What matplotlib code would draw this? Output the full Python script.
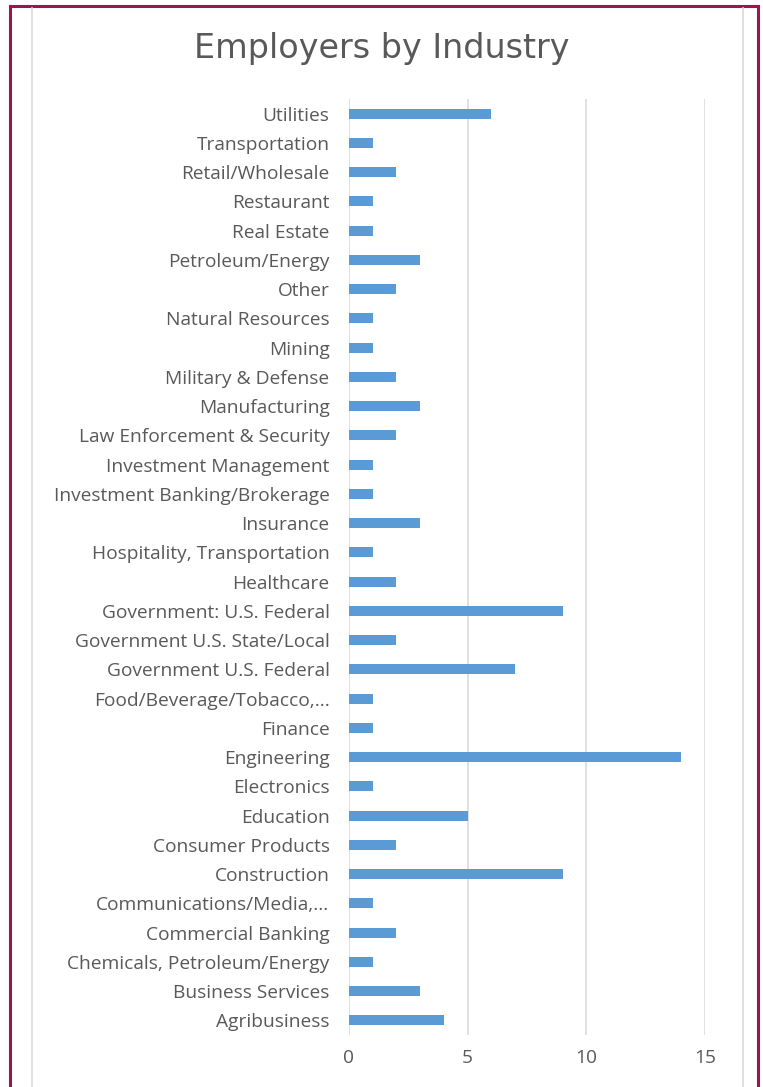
import matplotlib.pyplot as plt

# --- data (top to bottom as shown) ---
industries = [
    "Utilities", "Transportation", "Retail/Wholesale", "Restaurant", "Real Estate",
    "Petroleum/Energy", "Other", "Natural Resources", "Mining", "Military & Defense",
    "Manufacturing", "Law Enforcement & Security", "Investment Management",
    "Investment Banking/Brokerage", "Insurance", "Hospitality, Transportation",
    "Healthcare", "Government: U.S. Federal", "Government U.S. State/Local",
    "Government U.S. Federal", "Food/Beverage/Tobacco,...", "Finance", "Engineering",
    "Electronics", "Education", "Consumer Products", "Construction",
    "Communications/Media,...", "Commercial Banking", "Chemicals, Petroleum/Energy",
    "Business Services", "Agribusiness",
]
counts = [6, 1, 2, 1, 1, 3, 2, 1, 1, 2, 3, 2, 1, 1, 3, 1, 2, 9, 2, 7, 1, 1, 14,
          1, 5, 2, 9, 1, 2, 1, 3, 4]
x_ticks = [0, 5, 10, 15]

text_grey = "#595959"
grid_grey = "#d9d9d9"
bar_blue = "#5b9bd5"
maroon = "#9b1650"
font = ["Open Sans", "DejaVu Sans"]

W, H = 763, 1087
fig = plt.figure(figsize=(W / 100, H / 100), dpi=100)

# background axes in pixel units for the frame
bg = fig.add_axes([0, 0, 1, 1])
bg.set_xlim(0, W)
bg.set_ylim(H, 0)
bg.axis("off")
bg.plot([10, 10, 758, 758], [H + 5, 6, 6, H + 5], color=maroon, linewidth=2.2,
        solid_joinstyle="miter")
for xp in (32, 743):
    bg.plot([xp, xp], [8, H], color=grid_grey, linewidth=1.2)

ax = fig.add_axes([349 / W, 1 - 1035 / H, (705 - 349) / W, (1035 - 99) / H])

ypos = list(range(len(industries)))[::-1]
ax.barh(ypos, counts, height=0.35, color=bar_blue, zorder=3)

ax.set_xlim(0, 15)
ax.set_ylim(-0.5, len(industries) - 0.5)
ax.set_xticks(x_ticks)
ax.set_yticks(ypos)
ax.set_yticklabels(industries)
ax.grid(axis="x", color=grid_grey, linewidth=1.1, zorder=0)
for s in ax.spines.values():
    s.set_visible(False)
ax.tick_params(axis="both", length=0, colors=text_grey, labelsize=13.8)
ax.tick_params(axis="y", pad=14)
ax.tick_params(axis="x", pad=10)
for lbl in ax.get_yticklabels() + ax.get_xticklabels():
    lbl.set_family(font)

fig.text(0.5, 1 - 58 / H, "Employers by Industry", ha="center", va="baseline",
         fontsize=24, color=text_grey, family=["DejaVu Sans"])

fig.savefig("out.png", dpi=100)
